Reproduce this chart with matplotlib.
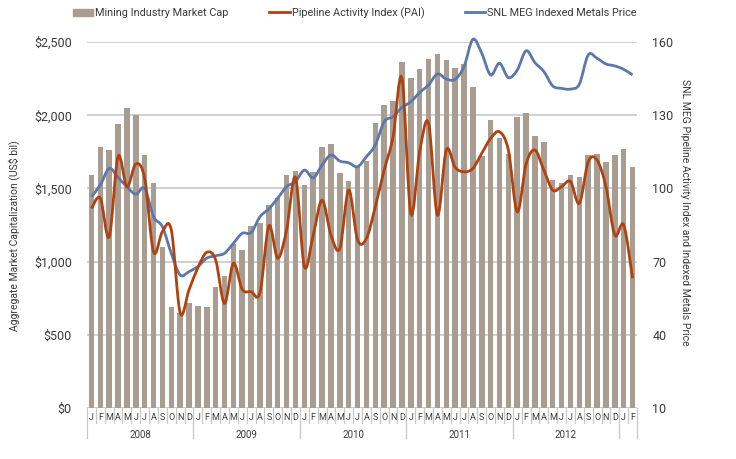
import matplotlib
matplotlib.use("Agg")
import matplotlib.pyplot as plt
from matplotlib.path import Path
from matplotlib.patches import PathPatch
from matplotlib.lines import Line2D
from matplotlib.patches import Patch
import numpy as np

plt.rcParams['font.family'] = ['Roboto', 'DejaVu Sans']

month_letters = list("JFMAMJJASOND") * 5 + ["J", "F"]
years = ["2008", "2009", "2010", "2011", "2012"]

# Mining industry market cap (US$ bil), Jan 2008 - Feb 2013
market_cap = [1590, 1785, 1760, 1940, 2050, 2000, 1730, 1540, 1100, 690, 650, 715,
              697, 692, 824, 904, 1120, 1079, 1245, 1261, 1387, 1432, 1591, 1619,
              1523, 1614, 1780, 1801, 1603, 1550, 1650, 1690, 1949, 2070, 2100, 2361,
              2251, 2318, 2384, 2418, 2377, 2325, 2348, 2190, 1720, 1967, 1842, 1737,
              1988, 2015, 1858, 1819, 1557, 1540, 1589, 1580, 1730, 1738, 1678, 1728,
              1767, 1649]

# Pipeline Activity Index
pai = [91.8, 96.0, 80.2, 113.0, 100.7, 110.0, 104.1, 74.0, 82.3, 83.0, 49.0, 58.4,
       67.5, 73.8, 70.7, 52.9, 69.3, 58.6, 57.7, 57.3, 84.6, 71.4, 83.0, 104.5,
       68.0, 80.9, 95.2, 80.9, 75.4, 99.3, 78.9, 79.5, 92.5, 107.5, 121.1, 145.1,
       89.8, 115.0, 126.7, 89.1, 115.7, 108.6, 106.8, 108.2, 114.4, 120.5, 123.2, 115.7,
       90.4, 110.0, 115.7, 107.5, 99.3, 100.7, 102.8, 93.9, 110.9, 111.6, 100.7, 80.9,
       85.0, 63.2]

# SNL MEG Indexed Metals Price
metals = [96.6, 101.4, 108.2, 104.5, 100.7, 97.6, 100.0, 88.4, 84.3, 73.4, 64.5, 65.9,
          68.0, 71.4, 72.4, 73.4, 77.5, 81.6, 81.9, 88.4, 91.6, 96.0, 100.7, 102.8,
          107.5, 104.3, 109.6, 113.7, 111.2, 110.5, 108.9, 113.0, 117.8, 127.3, 129.4, 133.2,
          135.5, 139.3, 142.4, 146.9, 144.8, 144.7, 149.9, 161.1, 155.4, 146.5, 151.3, 145.4,
          148.5, 156.4, 151.5, 147.9, 142.0, 141.0, 140.7, 142.7, 154.7, 153.3, 151.0, 150.2,
          148.8, 146.5]

bar_color = "#a99d91"
pai_color = "#b1420f"
metal_color = "#5b78ac"
text_color = "#3a3a3a"
grid_color = "#c8c8c8"


def smooth_path(x, y):
    # Catmull-Rom through the data points, drawn as cubic Bezier segments
    pts = np.column_stack([x, y]).astype(float)
    ext = np.vstack([pts[0], pts, pts[-1]])
    verts = [pts[0]]
    codes = [Path.MOVETO]
    for i in range(1, len(ext) - 2):
        p0, p1, p2, p3 = ext[i - 1], ext[i], ext[i + 1], ext[i + 2]
        verts += [p1 + (p2 - p0) / 6, p2 - (p3 - p1) / 6, p2]
        codes += [Path.CURVE4] * 3
    return Path(verts, codes)


x = np.arange(len(market_cap))

fig = plt.figure(figsize=(7.36, 4.59), dpi=100)
ax = fig.add_axes([87 / 736, 51 / 459, 550 / 736, 366 / 459])
ax.bar(x, market_cap, width=0.62, color=bar_color, zorder=2)
ax.set_xlim(-0.5, len(x) - 0.5)
ax.set_ylim(0, 2500)
ax.set_yticks([0, 500, 1000, 1500, 2000, 2500])
ax.set_yticklabels(["$0", "$500", "$1,000", "$1,500", "$2,000", "$2,500"])
ax.yaxis.grid(True, color=grid_color, linewidth=1.2, zorder=0)
ax.set_axisbelow(True)
for s in ax.spines.values():
    s.set_visible(False)
ax.tick_params(axis="y", length=0, labelsize=9, labelcolor=text_color, pad=11)
ax.set_xticks([])
ax.set_ylabel("Aggregate Market Capitalization (US$ bil)", fontsize=7.5,
              color=text_color)
ax.yaxis.set_label_coords(-0.122, 0.47)

ax2 = ax.twinx()
ax2.set_ylim(10, 160)
ax2.set_yticks([10, 40, 70, 100, 130, 160])
for s in ax2.spines.values():
    s.set_visible(False)
ax2.tick_params(axis="y", length=0, labelsize=9, labelcolor=text_color, pad=11)
ax2.set_ylabel("SNL MEG Pipeline Activity Index and Indexed Metals Price",
               fontsize=7.5, color=text_color, rotation=270)
ax2.yaxis.set_label_coords(1.097, 0.535)
ax2.add_patch(PathPatch(smooth_path(x, metals), facecolor="none",
                        edgecolor=metal_color, linewidth=2, zorder=3,
                        clip_on=False))
ax2.add_patch(PathPatch(smooth_path(x, pai), facecolor="none",
                        edgecolor=pai_color, linewidth=2, zorder=4,
                        clip_on=False))

# month / year axis below the plot
trans = ax.get_xaxis_transform()
for i in range(len(x) + 1):
    edge = i - 0.5
    year_edge = (i % 12 == 0) or i == len(x)
    low = -0.083 if year_edge else -0.041
    ax.plot([edge, edge], [0, low], transform=trans, color=grid_color,
            linewidth=0.9, clip_on=False)
for i, m in enumerate(month_letters):
    ax.text(i, -0.026, m, transform=trans, ha="center", va="center",
            fontsize=6.5, color=text_color)
for k, yr in enumerate(years):
    ax.text(k * 12 + 5.5, -0.073, yr, transform=trans, ha="center",
            va="center", fontsize=7, color=text_color)

handles = [Patch(color=bar_color),
           Line2D([], [], color=pai_color, linewidth=2),
           Line2D([], [], color=metal_color, linewidth=2)]
labels = ["Mining Industry Market Cap", "Pipeline Activity Index (PAI)",
          "SNL MEG Indexed Metals Price"]
fig.legend(handles, labels, loc="center", bbox_to_anchor=(0.482, 0.972), ncol=3,
           frameon=False, fontsize=7.8, handlelength=1.9, handleheight=0.6,
           handletextpad=0.2, columnspacing=3.7, labelcolor=text_color)

fig.savefig("out.png", dpi=100)
